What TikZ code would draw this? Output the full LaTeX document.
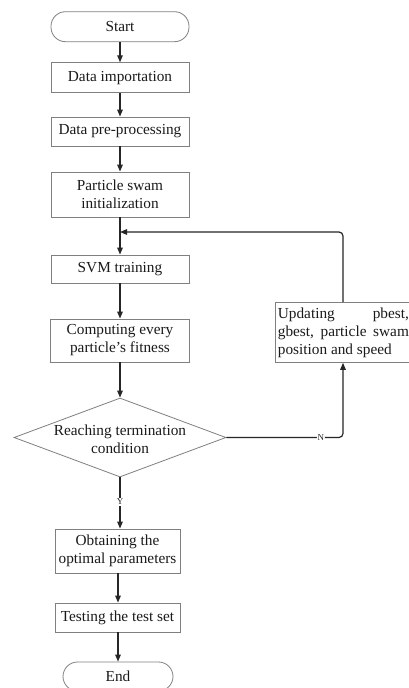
\documentclass[tikz,border=0pt]{standalone}
\usepackage{fontspec}
\setmainfont{Liberation Serif}
\usetikzlibrary{arrows.meta,shapes.geometric}
\definecolor{boxline}{HTML}{808080}
\definecolor{conline}{HTML}{262626}
\definecolor{txt}{HTML}{1A1A1A}
\tikzset{
  base/.style={draw=boxline, line width=0.8pt, text=txt, inner sep=0pt, align=center,
    font=\fontsize{15.3}{18}\selectfont},
  proc/.style={base, rectangle},
  term/.style={base, rectangle, rounded corners=14.5pt},
  conn/.style={draw=conline, line width=1.2pt, -{Triangle[length=7pt,width=5.5pt]}},
  lbl/.style={fill=white, inner sep=0.8pt, text=conline, font=\fontsize{9}{9}\selectfont}
}
\begin{document}
\begin{tikzpicture}[x=1pt,y=-1pt]
\useasboundingbox[fill=white] (0,0) rectangle (409,688);
\node[term, minimum width=138pt, minimum height=30pt] (start) at (120,26.7) {Start};
\node[proc, minimum width=138pt, minimum height=30pt] (imp) at (120,77.7) {Data importation};
\node[proc, minimum width=138pt, minimum height=29pt] (pre) at (120,131.5) {Data pre-processing};
\node[proc, minimum width=138pt, minimum height=45pt] (init) at (120,194.5) {Particle swam\\initialization};
\node[proc, minimum width=138pt, minimum height=28pt] (svm) at (120,269) {SVM training};
\node[proc, minimum width=139pt, minimum height=43pt] (fit) at (120,340.5) {Computing every\\particle's fitness};
\node[diamond, draw=boxline, line width=0.8pt, minimum width=212pt, minimum height=79pt, inner sep=0pt] (dia) at (120,437.5) {};
\node[text=txt, align=center, font=\fontsize{15.3}{18}\selectfont] (diatext) at (120,439) {Reaching termination\\condition};
\node[proc, minimum width=136pt, minimum height=60pt, anchor=north west] (upd) at (275,302)
  {\begin{minipage}{131pt}\fontsize{15.3}{18}\selectfont Updating\hfill pbest,\\gbest,\hfill particle\hfill swam\\position and speed\end{minipage}};
\node[proc, minimum width=125pt, minimum height=44pt] (obt) at (117.5,551) {Obtaining the\\optimal parameters};
\node[proc, minimum width=125pt, minimum height=29pt] (test) at (117.5,617.5) {Testing the test set};
\node[term, minimum width=110pt, minimum height=29pt] (end) at (118,676.5) {End};
\coordinate (join) at (120,232);
\draw[conn] (start) -- (imp);
\draw[conn] (imp) -- (pre);
\draw[conn] (pre) -- (init);
\draw[conn] (init) -- (svm);
\draw[conn] (svm) -- (fit);
\draw[conn] (fit) -- (dia);
\draw[conn, rounded corners=4pt] (dia.east) -| node[lbl, pos=0.405] {N} (upd.south -| 343,0);
\draw[conn, rounded corners=4pt] (upd.north -| 343,0) |- (join);
\draw[conn] (dia.south) -- node[lbl, pos=0.48] {Y} (dia.south |- obt.north);
\draw[conn] (obt.south -| 118,0) -- (test.north -| 118,0);
\draw[conn] (test.south -| 118,0) -- (end.north -| 118,0);
\end{tikzpicture}
\end{document}
